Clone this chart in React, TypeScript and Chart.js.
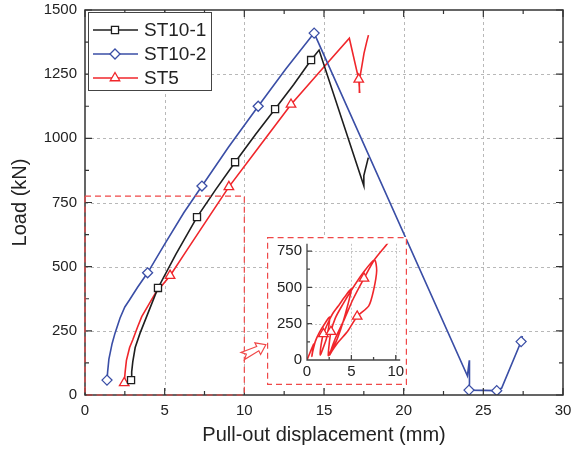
import React, { useEffect, useRef } from "react";
import { Chart, registerables } from "chart.js";

Chart.register(...registerables);

const FONT = "'Liberation Sans', Arial, Helvetica, sans-serif";

// ---- axes / ticks ----
const xTicks = [0, 5, 10, 15, 20, 25, 30];
const yTicks = [0, 250, 500, 750, 1000, 1250, 1500];
const insetXTicks = [0, 5, 10];
const insetYTicks = [0, 250, 500, 750];

const seriesNames = ["ST10-1", "ST10-2", "ST5"];
const seriesColors = ["#1e1e1e", "#3a4ea6", "#f0262b"];
const seriesMarkers = ["rect", "rectRot", "triangle"];

// ---- ST10-1 ----
const st101X = [2.89, 2.93, 3.0, 3.15, 3.45, 3.96, 4.58, 5.7, 7.03, 8.2, 9.42, 10.7, 11.93, 13.1, 14.19, 14.69, 17.5, 17.5, 17.78];
const st101Y = [58, 90, 130, 185, 240, 320, 417, 548, 693, 800, 907, 1015, 1114, 1210, 1305, 1344, 815, 855, 925];
const st101MarkX = [2.89, 4.58, 7.03, 9.42, 11.93, 14.19];
const st101MarkY = [58, 417, 693, 907, 1114, 1305];

// ---- ST10-2 ----
const st102X = [1.38, 1.42, 1.5, 1.7, 1.88, 2.2, 2.5, 2.8, 3.3, 3.93, 5.0, 6.2, 7.34, 9.0, 10.87, 12.6, 14.38, 24.0, 24.12, 24.13, 24.1, 25.84, 26.15, 27.37, 27.45];
const st102Y = [58, 90, 140, 200, 240, 300, 343, 371, 420, 476, 588, 710, 814, 965, 1125, 1270, 1410, 75, 135, 45, 19, 17, 27, 208, 230];
const st102MarkX = [1.38, 3.93, 7.34, 10.87, 14.38, 24.1, 25.84, 27.37];
const st102MarkY = [58, 476, 814, 1125, 1410, 19, 17, 208];

// ---- ST5 ----
const st5X = [2.46, 2.52, 2.6, 2.8, 3.0, 3.3, 3.56, 4.4, 5.34, 6.5, 7.8, 9.03, 11.0, 12.93, 14.8, 16.59, 17.18, 17.24, 17.22, 17.26, 17.37, 17.51, 17.68, 17.79];
const st5Y = [47, 90, 135, 185, 215, 265, 305, 395, 465, 574, 696, 811, 973, 1132, 1264, 1390, 1230, 1180, 1228, 1240, 1279, 1331, 1376, 1402];
const st5MarkX = [2.46, 5.34, 9.03, 12.93, 17.18];
const st5MarkY = [47, 465, 811, 1132, 1230];

// ---- inset: ST5 initial cycles ----
const insetX = [0, 0.3, 0.75, 0.62, 0.55, 0.65, 0.95, 1.4, 2.0, 2.55, 2.45, 2.2, 1.8, 1.5, 1.6, 1.85, 2.4, 2.9, 3.5, 4.2, 5.0, 4.6, 4.0, 3.3, 2.6, 2.4, 2.5, 2.7, 3.2, 4.0, 5.0, 6.2, 7.6, 7.85, 7.5, 6.96, 5.65, 4.6, 3.55, 2.85, 2.55, 3.2, 4.2, 5.2, 6.42, 7.6, 9.1, 9.6];
const insetY = [0, 45, 110, 60, 25, 60, 130, 190, 250, 296, 230, 150, 80, 35, 110, 180, 260, 320, 370, 430, 490, 380, 250, 130, 55, 30, 110, 195, 290, 380, 480, 590, 690, 614, 480, 373, 300, 200, 125, 65, 35, 150, 280, 420, 562, 690, 805, 860];
const insetMarkX = [1.85, 2.7, 5.65, 6.42];
const insetMarkY = [180, 195, 300, 562];

const pts = (xs: number[], ys: number[]) => xs.map((x, i) => ({ x, y: ys[i] }));

const lineDs = (xs: number[], ys: number[], color: string, tension = 0) => ({
  data: pts(xs, ys),
  showLine: true,
  borderColor: color,
  backgroundColor: color,
  borderWidth: 1.6,
  pointRadius: 0,
  pointHoverRadius: 0,
  tension,
  fill: false,
  order: 1,
});

const markDs = (xs: number[], ys: number[], color: string, style: string, r: number) => ({
  data: pts(xs, ys),
  showLine: false,
  pointStyle: style,
  pointRadius: r,
  pointHoverRadius: r,
  borderColor: color,
  backgroundColor: "#fff",
  pointBorderColor: color,
  pointBackgroundColor: "#fff",
  pointBorderWidth: 1.3,
  borderWidth: 1.3,
  order: 0,
});

function drawMarker(ctx: CanvasRenderingContext2D, style: string, x: number, y: number, r: number) {
  ctx.beginPath();
  if (style === "rect") {
    const s = r * Math.SQRT1_2;
    ctx.rect(x - s, y - s, 2 * s, 2 * s);
  } else if (style === "rectRot") {
    ctx.moveTo(x, y - r);
    ctx.lineTo(x + r, y);
    ctx.lineTo(x, y + r);
    ctx.lineTo(x - r, y);
    ctx.closePath();
  } else {
    const a1 = (2 * Math.PI) / 3;
    ctx.moveTo(x, y - r);
    ctx.lineTo(x + r * Math.sin(a1), y - r * Math.cos(a1));
    ctx.lineTo(x + r * Math.sin(2 * a1), y - r * Math.cos(2 * a1));
    ctx.closePath();
  }
  ctx.fill();
  ctx.stroke();
}

const markerRadius = [5, 5, 5.5];
const plain = (v: any) => String(v);

const mainDecor = {
  id: "mainDecor",
  beforeDatasetsDraw(chart: any) {
    const { ctx, chartArea: a, scales } = chart;
    const sx = scales.x, sy = scales.y;
    ctx.save();
    ctx.strokeStyle = "#b8b8b8";
    ctx.lineWidth = 1;
    ctx.setLineDash([3, 3]);
    ctx.beginPath();
    xTicks.forEach((v) => {
      if (v <= sx.min || v >= sx.max) return;
      const p = Math.round(sx.getPixelForValue(v)) + 0.5;
      ctx.moveTo(p, a.top);
      ctx.lineTo(p, a.bottom);
    });
    yTicks.forEach((v) => {
      if (v <= sy.min || v >= sy.max) return;
      const p = Math.round(sy.getPixelForValue(v)) + 0.5;
      ctx.moveTo(a.left, p);
      ctx.lineTo(a.right, p);
    });
    ctx.stroke();
    ctx.restore();
  },
  afterDraw(chart: any) {
    const { ctx, chartArea: a, scales } = chart;
    const sx = scales.x, sy = scales.y;
    ctx.save();
    // frame
    ctx.strokeStyle = "#333";
    ctx.lineWidth = 1.5;
    ctx.setLineDash([]);
    ctx.strokeRect(a.left, a.top, a.right - a.left, a.bottom - a.top);
    // ticks
    ctx.lineWidth = 1.2;
    ctx.beginPath();
    const xStep = xTicks[1] - xTicks[0];
    xTicks.forEach((v) => {
      const p = sx.getPixelForValue(v);
      ctx.moveTo(p, a.bottom); ctx.lineTo(p, a.bottom - 7);
      ctx.moveTo(p, a.top); ctx.lineTo(p, a.top + 7);
      const m = v + xStep / 2;
      if (m < sx.max) {
        const q = sx.getPixelForValue(m);
        ctx.moveTo(q, a.bottom); ctx.lineTo(q, a.bottom - 4);
        ctx.moveTo(q, a.top); ctx.lineTo(q, a.top + 4);
      }
    });
    const yStep = yTicks[1] - yTicks[0];
    yTicks.forEach((v) => {
      const p = sy.getPixelForValue(v);
      ctx.moveTo(a.left, p); ctx.lineTo(a.left + 7, p);
      ctx.moveTo(a.right, p); ctx.lineTo(a.right - 7, p);
      const m = v + yStep / 2;
      if (m < sy.max) {
        const q = sy.getPixelForValue(m);
        ctx.moveTo(a.left, q); ctx.lineTo(a.left + 4, q);
        ctx.moveTo(a.right, q); ctx.lineTo(a.right - 4, q);
      }
    });
    ctx.stroke();

    // dashed zoom rectangle (0..10 x 0..775)
    ctx.strokeStyle = "#f04848";
    ctx.lineWidth = 1.2;
    ctx.setLineDash([6, 4]);
    const rx0 = sx.getPixelForValue(0), rx1 = sx.getPixelForValue(10);
    const ry0 = sy.getPixelForValue(0), ry1 = sy.getPixelForValue(775);
    ctx.strokeRect(rx0, ry1, rx1 - rx0, ry0 - ry1);

    // hollow arrow
    ctx.setLineDash([]);
    const tx = sx.getPixelForValue(9.9), ty = sy.getPixelForValue(152);
    const hx = sx.getPixelForValue(11.35), hy = sy.getPixelForValue(196);
    const L = Math.hypot(hx - tx, hy - ty);
    const dx = (hx - tx) / L, dy = (hy - ty) / L;
    const nx = -dy, ny = dx;
    const hb = 9, sw = 2.4, hw = 6.5;
    const bx = hx - dx * hb, by = hy - dy * hb;
    ctx.beginPath();
    ctx.moveTo(hx, hy);
    ctx.lineTo(bx + nx * hw, by + ny * hw);
    ctx.lineTo(bx + nx * sw, by + ny * sw);
    ctx.lineTo(tx + nx * 4, ty + ny * 4);
    ctx.lineTo(tx + dx * 4, ty + dy * 4);
    ctx.lineTo(tx - nx * 4, ty - ny * 4);
    ctx.lineTo(bx - nx * sw, by - ny * sw);
    ctx.lineTo(bx - nx * hw, by - ny * hw);
    ctx.closePath();
    ctx.fillStyle = "#fff";
    ctx.fill();
    ctx.stroke();

    // legend
    const lx = a.left + 3, ly = a.top + 2, lw = 123, lh = 78;
    ctx.fillStyle = "#fff";
    ctx.fillRect(lx, ly, lw, lh);
    ctx.strokeStyle = "#444";
    ctx.lineWidth = 1;
    ctx.strokeRect(lx + 0.5, ly + 0.5, lw, lh);
    ctx.font = `19px ${FONT}`;
    ctx.textBaseline = "middle";
    ctx.textAlign = "left";
    seriesNames.forEach((name, i) => {
      const yy = ly + 18 + i * 24;
      ctx.strokeStyle = seriesColors[i];
      ctx.lineWidth = 1.6;
      ctx.beginPath();
      ctx.moveTo(lx + 5, yy);
      ctx.lineTo(lx + 50, yy);
      ctx.stroke();
      ctx.fillStyle = "#fff";
      ctx.lineWidth = 1.3;
      drawMarker(ctx, seriesMarkers[i], lx + 27, yy, markerRadius[i]);
      ctx.fillStyle = "#222";
      ctx.fillText(name, lx + 56, yy + 1);
    });
    ctx.restore();
  },
};

const insetDecor = {
  id: "insetDecor",
  beforeDatasetsDraw(chart: any) {
    const { ctx, chartArea: a, scales } = chart;
    const sx = scales.x, sy = scales.y;
    ctx.save();
    ctx.strokeStyle = "#c4c4c4";
    ctx.lineWidth = 1;
    ctx.setLineDash([2, 2]);
    ctx.beginPath();
    insetXTicks.forEach((v) => {
      if (v <= sx.min) return;
      const p = Math.round(sx.getPixelForValue(v)) + 0.5;
      ctx.moveTo(p, a.top);
      ctx.lineTo(p, a.bottom);
    });
    insetYTicks.forEach((v) => {
      if (v <= sy.min) return;
      const p = Math.round(sy.getPixelForValue(v)) + 0.5;
      ctx.moveTo(a.left, p);
      ctx.lineTo(a.right, p);
    });
    ctx.stroke();
    ctx.restore();
  },
  afterDraw(chart: any) {
    const { ctx, chartArea: a, scales, width, height } = chart;
    const sx = scales.x, sy = scales.y;
    ctx.save();
    ctx.strokeStyle = "#444";
    ctx.lineWidth = 1.3;
    ctx.beginPath();
    ctx.moveTo(a.left, a.top);
    ctx.lineTo(a.left, a.bottom);
    ctx.lineTo(a.right, a.bottom);
    const xs = insetXTicks[1] - insetXTicks[0];
    insetXTicks.forEach((v) => {
      const p = sx.getPixelForValue(v);
      ctx.moveTo(p, a.bottom); ctx.lineTo(p, a.bottom - 5);
      const m = v + xs / 2;
      if (m < sx.max) {
        const q = sx.getPixelForValue(m);
        ctx.moveTo(q, a.bottom); ctx.lineTo(q, a.bottom - 3);
      }
    });
    const ys = insetYTicks[1] - insetYTicks[0];
    insetYTicks.forEach((v) => {
      const p = sy.getPixelForValue(v);
      ctx.moveTo(a.left, p); ctx.lineTo(a.left + 5, p);
      const m = v + ys / 2;
      if (m < sy.max) {
        const q = sy.getPixelForValue(m);
        ctx.moveTo(a.left, q); ctx.lineTo(a.left + 3, q);
      }
    });
    ctx.stroke();
    // dashed border
    ctx.strokeStyle = "#f04848";
    ctx.lineWidth = 1.2;
    ctx.setLineDash([6, 4]);
    ctx.strokeRect(0.6, 0.6, width - 1.2, height - 1.2);
    ctx.restore();
  },
};

function mainConfig(): any {
  return {
    type: "scatter",
    data: {
      datasets: [
        markDs(st101MarkX, st101MarkY, seriesColors[0], "rect", markerRadius[0]),
        markDs(st102MarkX, st102MarkY, seriesColors[1], "rectRot", markerRadius[1]),
        markDs(st5MarkX, st5MarkY, seriesColors[2], "triangle", markerRadius[2]),
        lineDs(st101X, st101Y, seriesColors[0]),
        lineDs(st102X, st102Y, seriesColors[1]),
        lineDs(st5X, st5Y, seriesColors[2]),
      ],
    },
    options: {
      animation: false,
      responsive: false,
      devicePixelRatio: 1,
      layout: { padding: { left: 0, right: 8, top: 10, bottom: 0 } },
      plugins: { legend: { display: false }, tooltip: { enabled: false } },
      events: [],
      scales: {
        x: {
          type: "linear",
          min: 0,
          max: 30,
          grid: { display: false, drawTicks: false },
          border: { display: false },
          afterBuildTicks: (s: any) => {
            s.ticks = xTicks.map((v) => ({ value: v }));
          },
          afterFit: (s: any) => {
            s.height = 57;
            s.paddingLeft = 0;
            s.paddingRight = 0;
          },
          ticks: { font: { family: FONT, size: 15 }, color: "#222", padding: 7, maxRotation: 0, autoSkip: false, callback: plain },
          title: {
            display: true,
            text: "Pull-out displacement (mm)",
            font: { family: FONT, size: 20 },
            color: "#222",
            padding: { top: 0, bottom: 5 },
          },
        },
        y: {
          type: "linear",
          min: 0,
          max: 1500,
          grid: { display: false, drawTicks: false },
          border: { display: false },
          afterBuildTicks: (s: any) => {
            s.ticks = yTicks.map((v) => ({ value: v }));
          },
          afterFit: (s: any) => {
            s.width = 85;
            s.paddingTop = 0;
            s.paddingBottom = 0;
          },
          ticks: { font: { family: FONT, size: 15 }, color: "#222", padding: 8, autoSkip: false, callback: plain },
          title: {
            display: true,
            text: "Load (kN)",
            font: { family: FONT, size: 20 },
            color: "#222",
            padding: { top: 8, bottom: 0 },
          },
        },
      },
    },
    plugins: [mainDecor],
  };
}

function insetConfig(): any {
  return {
    type: "scatter",
    data: {
      datasets: [
        markDs(insetMarkX, insetMarkY, seriesColors[2], "triangle", markerRadius[2]),
        lineDs(insetX, insetY, seriesColors[2], 0.25),
      ],
    },
    options: {
      animation: false,
      responsive: false,
      devicePixelRatio: 1,
      layout: { padding: { left: 0, right: 2, top: 1, bottom: 0 } },
      plugins: { legend: { display: false }, tooltip: { enabled: false } },
      events: [],
      scales: {
        x: {
          type: "linear",
          min: 0,
          max: 10.5,
          grid: { display: false, drawTicks: false },
          border: { display: false },
          afterBuildTicks: (s: any) => {
            s.ticks = insetXTicks.map((v) => ({ value: v }));
          },
          afterFit: (s: any) => {
            s.height = 25;
            s.paddingLeft = 0;
            s.paddingRight = 0;
          },
          ticks: { font: { family: FONT, size: 15 }, color: "#222", padding: 3, maxRotation: 0, autoSkip: false, callback: plain },
        },
        y: {
          type: "linear",
          min: 0,
          max: 800,
          grid: { display: false, drawTicks: false },
          border: { display: false },
          afterBuildTicks: (s: any) => {
            s.ticks = insetYTicks.map((v) => ({ value: v }));
          },
          afterFit: (s: any) => {
            s.width = 40;
            s.paddingTop = 0;
            s.paddingBottom = 0;
          },
          ticks: { font: { family: FONT, size: 15 }, color: "#222", padding: 5, autoSkip: false, callback: plain },
        },
      },
    },
    plugins: [insetDecor],
  };
}

export default function App() {
  const mainRef = useRef<HTMLCanvasElement>(null);
  const insetRef = useRef<HTMLCanvasElement>(null);
  useEffect(() => {
    const main = new Chart(mainRef.current as HTMLCanvasElement, mainConfig());
    const inset = new Chart(insetRef.current as HTMLCanvasElement, insetConfig());
    return () => {
      main.destroy();
      inset.destroy();
    };
  }, []);
  return (
    <div style={{ position: "fixed", left: 0, top: 0, width: 571, height: 452, background: "#fff" }}>
      <canvas
        ref={mainRef}
        width={571}
        height={452}
        style={{ position: "absolute", left: 0, top: 0, width: 571, height: 452 }}
      />
      <div style={{ position: "absolute", left: 267, top: 237, width: 140, height: 148, background: "#fff" }}>
        <canvas ref={insetRef} width={140} height={148} style={{ display: "block", width: 140, height: 148 }} />
      </div>
    </div>
  );
}
